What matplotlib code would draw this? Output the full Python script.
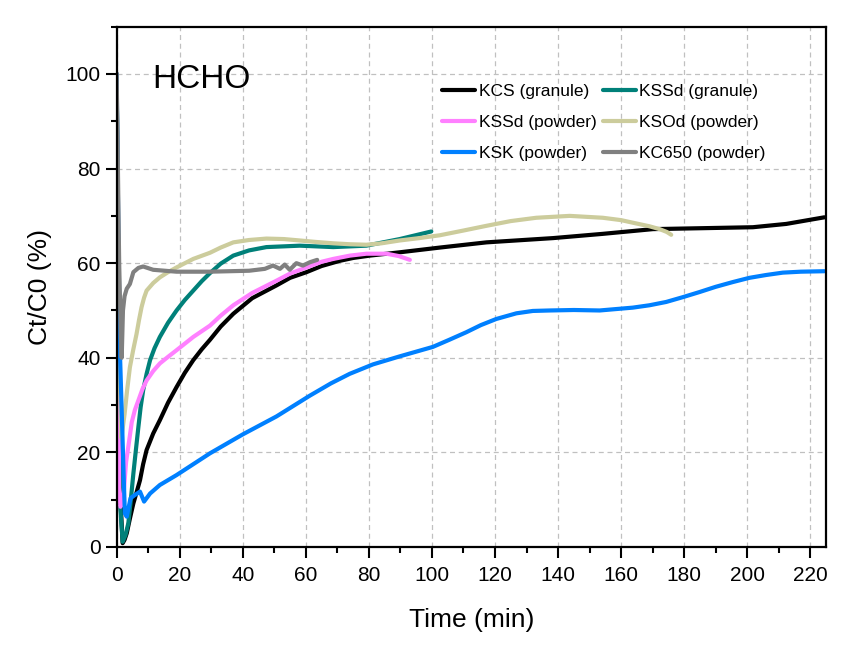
import matplotlib
matplotlib.use("Agg")
import matplotlib.pyplot as plt
from matplotlib.ticker import MultipleLocator

plt.rcParams["font.family"] = ["Liberation Sans", "DejaVu Sans"]

# ---------- data ----------
kcs_t = [0, 0.5, 1.2, 1.9, 2.5, 3.2, 4.2, 5.3, 6.3, 7.4, 8.4, 9.5, 11.6, 13.7, 16.3,
         19, 21.6, 24.3, 27, 29.6, 33, 37, 43, 50.7, 55, 60.2, 65, 70.8, 75, 80.3,
         89.8, 102.5, 117.3, 138.4, 154.2, 170.1, 186, 201.8, 212.4, 224.5]
kcs_y = [100, 55, 10, 0.8, 1.5, 2.9, 6, 9.2, 11.5, 14.1, 17.5, 20.5, 24, 26.8, 30.5,
         33.8, 36.8, 39.5, 41.8, 43.8, 46.6, 49.3, 52.6, 55.3, 56.9, 58.1, 59.4, 60.5,
         61.1, 61.6, 62.3, 63.3, 64.4, 65.3, 66.2, 67.2, 67.4, 67.6, 68.3, 69.7]

kssd_g_t = [0, 0.6, 1.2, 1.9, 2.8, 3.7, 4.5, 5.3, 6.1, 6.9, 7.6, 8.4, 9.5, 10.6, 12,
            13.7, 16.3, 19, 21.6, 24.3, 27, 29.6, 33, 37, 42, 47.5, 58.1, 68.7, 79.2,
            89.8, 99.8]
kssd_g_y = [100, 50, 8, 1.1, 2.5, 5, 10, 15.5, 20.5, 25.4, 29.5, 33.1, 36.6, 39.5, 42,
            44.4, 47.4, 50, 52.2, 54.2, 56.2, 57.9, 59.9, 61.6, 62.7, 63.4, 63.7, 63.4,
            63.7, 65.1, 66.7]

kssd_p_t = [0, 0.5, 0.8, 1.2, 2.0, 3.0, 3.7, 4.8, 5.8, 6.9, 8.2, 9.5, 11.6, 13.7, 16.3,
            19, 24.3, 29.6, 33, 37, 43, 50.7, 55, 60.2, 65, 68.7, 74, 79.2, 85.6, 89.5,
            93]
kssd_p_y = [100, 40, 12, 8.5, 9.5, 18, 21.2, 26.4, 29, 31, 33.4, 35.2, 37.2, 38.8, 40.2,
            41.6, 44.4, 46.8, 48.9, 51.1, 53.7, 56.3, 57.8, 59.1, 60.3, 60.9, 61.6, 62,
            62, 61.5, 60.7]

ksod_t = [0, 0.6, 1.5, 2.5, 3.3, 4.2, 5.2, 6.3, 7.1, 7.9, 8.7, 9.5, 11.6, 13.7, 16.3,
          19, 24.3, 29.6, 33, 37, 42, 47.5, 53, 58.1, 63, 68.7, 74, 79.2, 84, 89.8, 96,
          102.5, 110, 117.3, 125, 133.1, 143.7, 154.2, 160, 164.8, 169, 172.2, 174.5,
          175.9]
ksod_y = [100, 45, 23, 28, 33, 38, 41.5, 45, 48, 50.7, 52.7, 54.2, 55.8, 57, 58.1, 59.1,
          60.9, 62.2, 63.3, 64.4, 64.9, 65.2, 65.1, 64.8, 64.5, 64.2, 64, 63.9, 64.2,
          64.8, 65.3, 65.9, 66.9, 67.9, 68.9, 69.6, 70, 69.6, 69.1, 68.4, 67.8, 67.2,
          66.6, 66]

ksk_t = [0, 0.3, 1.0, 2.0, 2.6, 3.2, 4.4, 5.8, 7.4, 8.7, 10.6, 13.7, 19, 29.6, 40,
         50.7, 61.3, 68, 73.9, 81.3, 89.8, 100.3, 105.5, 110.9, 115.5, 120.4, 126.8,
         132, 137.4, 145, 153.2, 163.7, 169, 174.3, 179.5, 184.9, 190, 195.4, 200.7,
         206, 211.3, 217, 224.5]
ksk_y = [100, 80, 42, 20, 7.1, 6.4, 10.3, 11, 11.7, 9.6, 11.3, 13.1, 15.2, 19.8, 23.8,
         27.6, 32, 34.6, 36.6, 38.6, 40.3, 42.3, 43.8, 45.4, 46.9, 48.2, 49.4, 49.9,
         50, 50.1, 50, 50.6, 51.1, 51.8, 52.8, 53.9, 55, 56, 56.9, 57.5, 58, 58.2, 58.3]

kc650_t = [0, 0.3, 0.8, 1.3, 1.6, 2.0, 2.5, 3.2, 4.2, 5.3, 6.9, 8.4, 11.6, 19, 29.6,
           42, 47, 49.6, 51.8, 53.3, 54.9, 57, 59.1, 61.3, 63.6]
kc650_y = [100, 85, 60, 45, 40, 50, 53, 54.6, 55.6, 58.1, 59, 59.3, 58.6, 58.2, 58.2,
           58.4, 58.8, 59.5, 58.8, 59.7, 58.6, 60, 59.5, 60.2, 60.7]

series = [
    ("KCS (granule)", kcs_t, kcs_y, "#000000"),
    ("KSSd (granule)", kssd_g_t, kssd_g_y, "#008079"),
    ("KSSd (powder)", kssd_p_t, kssd_p_y, "#ff80ff"),
    ("KSOd (powder)", ksod_t, ksod_y, "#cccc9c"),
    ("KSK (powder)", ksk_t, ksk_y, "#0080ff"),
    ("KC650 (powder)", kc650_t, kc650_y, "#808080"),
]

# ---------- plot ----------
fig = plt.figure(figsize=(8.59, 6.46), dpi=100)
ax = fig.add_axes([0.1358, 0.1533, 0.8258, 0.8054])

handles = []
for label, t, y, c in series:
    h, = ax.plot(t, y, color=c, lw=3.0, label=label,
                 solid_joinstyle="round", solid_capstyle="round")
    handles.append(h)

ax.set_xlim(0, 225)
ax.set_ylim(0, 110)
ax.xaxis.set_major_locator(MultipleLocator(20))
ax.xaxis.set_minor_locator(MultipleLocator(10))
ax.yaxis.set_major_locator(MultipleLocator(20))
ax.yaxis.set_minor_locator(MultipleLocator(10))
ax.tick_params(which="major", length=8, width=1.5, labelsize=15, direction="out")
ax.tick_params(axis="x", which="major", pad=6)
ax.tick_params(which="minor", length=4, width=1.5, direction="out")
for s in ax.spines.values():
    s.set_linewidth(1.6)

ax.grid(True, which="major", linestyle=(0, (4, 3)), color="#c0c0c0", linewidth=0.9)
ax.set_axisbelow(True)

ax.set_xlabel("Time (min)", fontsize=19, labelpad=16)
ax.set_ylabel("Ct/C0 (%)", fontsize=19, labelpad=10)

ax.text(0.05, 0.898, "HCHO", transform=ax.transAxes, fontsize=24,
        va="center", ha="left")

# legend is filled row by row in the reference
order = [0, 2, 4, 1, 3, 5]
ax.legend([handles[i] for i in order], [series[i][0] for i in order],
          loc="upper left", bbox_to_anchor=(0.459, 0.89), ncol=2, frameon=False,
          fontsize=12.5, handlelength=1.9, handletextpad=0.2, columnspacing=0.35,
          labelspacing=0.9, borderpad=0, borderaxespad=0)

fig.savefig("out.png", dpi=100)
